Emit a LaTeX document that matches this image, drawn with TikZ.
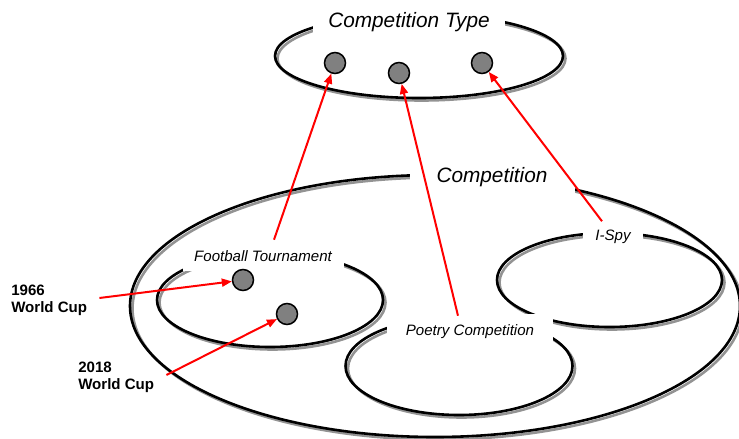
\documentclass[tikz,border=0pt]{standalone}
\usepackage{fontspec}
\setmainfont{Liberation Sans}
\usetikzlibrary{arrows.meta,calc}

\newlength{\pxu}
\setlength{\pxu}{0.75pt}

\tikzset{
    setline/.style={black, line width=2.6\pxu},
    setshadow/.style={gray!85, line width=2.6\pxu, shift={(2.5,2.5)}},
    setlabel/.style={fill=white, inner sep=0pt, font=\itshape\fontsize{11.3}{13}\selectfont},
    biglabel/.style={fill=white, inner sep=0pt, font=\itshape\fontsize{15.6}{18}\selectfont},
    member/.style={circle, draw=black, line width=1.5\pxu, fill=gray, minimum size=21\pxu, inner sep=0pt},
    cuplabel/.style={align=left, inner sep=0pt, font=\bfseries\fontsize{11.3}{12.75}\selectfont},
    link/.style={red, line width=1.5pt, -{Triangle[length=7.5pt, width=6pt]}}
}

\begin{document}
\begin{tikzpicture}[x=0.75pt, y=-0.75pt]
        \useasboundingbox (0,0) rectangle (739,439);

        % shadows
        \draw[setshadow] (419,56) ellipse [x radius=144, y radius=42];
        \draw[setshadow] (435,306) ellipse [x radius=305, y radius=131];
        \draw[setshadow] (270,300) ellipse [x radius=113, y radius=47];
        \draw[setshadow] (609.5,280) ellipse [x radius=112.5, y radius=47];
        \draw[setshadow] (459,366) ellipse [x radius=113.5, y radius=49];

        % sets
        \draw[setline] (419,56) ellipse [x radius=144, y radius=42];
        \draw[setline] (435,306) ellipse [x radius=305, y radius=131];
        \draw[setline] (270,300) ellipse [x radius=113, y radius=47];
        \draw[setline] (609.5,280) ellipse [x radius=112.5, y radius=47];
        \draw[setline] (459,366) ellipse [x radius=113.5, y radius=49];

        % set names
        \node[biglabel, minimum width=192\pxu, minimum height=28\pxu] (typelab) at (409,22) {Competition Type};
        \node[biglabel, minimum width=165\pxu, minimum height=32\pxu] (complab) at (492,177) {Competition};
        \node[setlabel, minimum width=161\pxu, minimum height=30\pxu] (footlab) at (263,256) {Football Tournament};
        \node[setlabel, minimum width=166\pxu, minimum height=36\pxu] (poemlab) at (470,332) {Poetry Competition};
        \node[setlabel, minimum width=60\pxu, minimum height=31\pxu] (spylab) at (613,237) {I-Spy};

        % members
        \node[member] (tyfoot) at (335,63) {};
        \node[member] (typoem) at (399,73) {};
        \node[member] (tyspy) at (482,63) {};
        \node[member] (cup66) at (243,280) {};
        \node[member] (cup18) at (287,314) {};

        \node[cuplabel, anchor=west] (wc66) at (11,300) {1966\\World Cup};
        \node[cuplabel, anchor=west] (wc18) at (78,377) {2018\\World Cup};

        % instance-of links
        \draw[link] ($(footlab.north)+(11,-1)$) -- (tyfoot);
        \draw[link] ($(poemlab.north)+(-12,2)$) -- (typoem);
        \draw[link] ($(spylab.north)+(-11,0)$) -- (tyspy);
        \draw[link] ($(wc66.east)+(12,-2)$) -- (cup66);
        \draw[link] ($(wc18.east)+(12,-2)$) -- (cup18);
\end{tikzpicture}
\end{document}
